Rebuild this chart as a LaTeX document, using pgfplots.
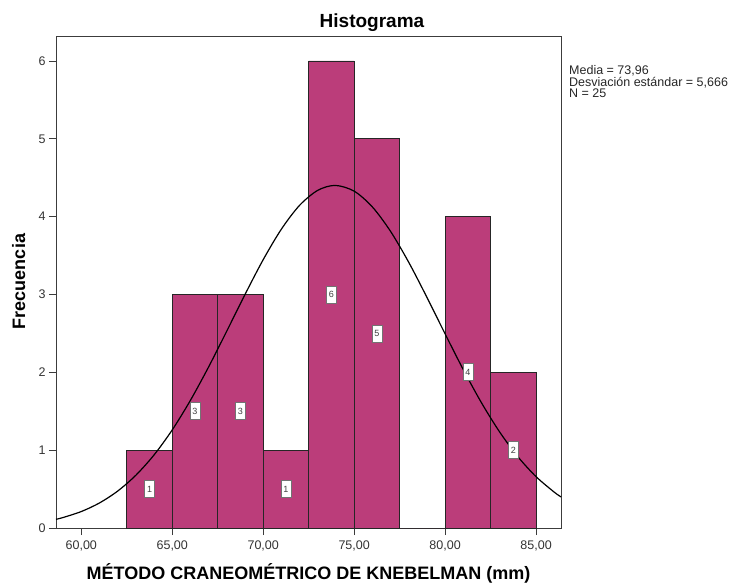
\documentclass[border=0pt]{standalone}
\usepackage{pgfplots}
\pgfplotsset{compat=1.18}
\usepackage{fontspec}
\setmainfont{Liberation Sans}
\definecolor{barcol}{RGB}{187,61,122}
\definecolor{axcol}{RGB}{60,60,60}
\begin{document}
\begin{tikzpicture}[x=1pt,y=1pt]
\path[use as bounding box] (0,0) rectangle (739,582);
\begin{axis}[
  at={(56pt,54pt)}, anchor=south west,
  scale only axis, width=505pt, height=492pt,
  xmin=58.61, xmax=86.37, ymin=0, ymax=6.32,
  axis line style={axcol, line width=0.8pt},
  tick align=outside, major tick length=7pt,
  xtick pos=lower, ytick pos=left,
  tick style={axcol, line width=0.8pt},
  xtick={60,65,70,75,80,85},
  xticklabels={{60,00},{65,00},{70,00},{75,00},{80,00},{85,00}},
  ytick={0,1,2,3,4,5,6},
  yticklabels={0,1,2,3,4,5,6},
  x tick label style={font=\fontsize{12.5}{14}\selectfont, text=black!80, yshift=-2pt},
  y tick label style={font=\fontsize{12.5}{14}\selectfont, text=black!80},
  /pgf/number format/assume math mode=true,
  clip=false,
]
\addplot[ybar interval, fill=barcol, draw=black!85, line width=0.8pt]
  coordinates {(62.5,1)(65,3)(67.5,3)(70,1)(72.5,6)(75,5)(77.5,0)(80,4)(82.5,2)(85,2)};
\addplot[draw=none, mark=none, nodes near coords, point meta=explicit symbolic,
  nodes near coords style={anchor=center, draw=black!55, line width=0.7pt, fill=white,
    font=\fontsize{9}{10}\selectfont, text=black!75, inner sep=1pt,
    minimum width=10pt, minimum height=17pt}]
  table[meta=lab] {
x y lab
63.75 0.5 1
66.25 1.5 3
68.75 1.5 3
71.25 0.5 1
73.75 3 6
76.25 2.5 5
81.25 2 4
83.75 1 2
};
\addplot[smooth, black, line width=1.2pt] coordinates {
(58.61,0.1116)(59,0.1348)(60,0.2115)(61,0.3217)(62,0.4742)(63,0.6777)(64,0.9387)
(65,1.2603)(66,1.6404)(67,2.0694)(68,2.5309)(69,3.0000)(70,3.4471)(71,3.8393)
(72,4.1451)(73,4.3379)(73.96,4.4006)(75,4.3271)(76,4.1244)(77,3.8107)(78,3.4130)
(79,2.9629)(80,2.4933)(81,2.0337)(82,1.6080)(83,1.2324)(84,0.9155)(85,0.6593)
(86,0.4602)(86.37,0.3997)};
\end{axis}
\node[anchor=base, font=\fontsize{19}{22}\selectfont\bfseries] at (372,554) {Histograma};
\node[anchor=base, font=\fontsize{18}{21}\selectfont\bfseries] at (308.5,3) {MÉTODO CRANEOMÉTRICO DE KNEBELMAN (mm)};
\node[anchor=base, rotate=90, font=\fontsize{18}{21}\selectfont\bfseries] at (25,300.5) {Frecuencia};
\node[anchor=north west, inner sep=0pt, align=left, font=\fontsize{12.5}{10}\selectfont, text=black!85] at (569,517) {Media = 73,96\\Desviación estándar = 5,666\\N = 25};
\end{tikzpicture}
\end{document}
